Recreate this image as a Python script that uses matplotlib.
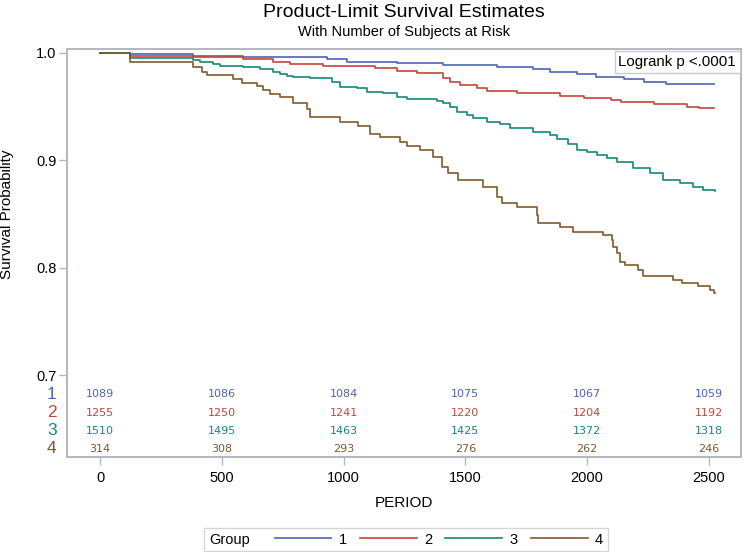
import numpy as np
import matplotlib
matplotlib.use("Agg")
import matplotlib.pyplot as plt
from matplotlib.lines import Line2D
from matplotlib.offsetbox import HPacker

plt.rcParams['font.family'] = ['Liberation Sans', 'DejaVu Sans']

# Kaplan-Meier step data (time, survival after step)
t1 = [0, 123, 382, 587, 932, 1014, 1220, 1409, 1630, 1778, 1848, 1959, 2037, 2152, 2234, 2324, 2521]
s1 = [1.0, 0.999, 0.997, 0.996, 0.994, 0.992, 0.9907, 0.989, 0.987, 0.985, 0.9826, 0.9804, 0.9774, 0.9758, 0.973, 0.9711, 0.9711]

t2 = [0, 123, 382, 587, 710, 780, 916, 1129, 1220, 1302, 1409, 1437, 1478, 1548, 1589, 1713,
      1889, 1988, 2099, 2140, 2275, 2411, 2460, 2521]
s2 = [1.0, 0.9975, 0.996, 0.994, 0.992, 0.9898, 0.988, 0.9857, 0.9835, 0.981, 0.9764, 0.9733, 0.970,
      0.967, 0.965, 0.9625, 0.960, 0.9584, 0.956, 0.9547, 0.9525, 0.950, 0.949, 0.949]

t3 = [0, 123, 382, 411, 464, 493, 587, 657, 710, 739, 768, 793, 862, 953, 986, 1055, 1096, 1162,
      1220, 1261, 1384, 1409, 1437, 1466, 1507, 1532, 1589, 1643, 1684, 1778, 1848, 1877, 1920,
      1959, 2000, 2041, 2080, 2123, 2189, 2259, 2312, 2382, 2435, 2476, 2526]
s3 = [1.0, 0.995, 0.9935, 0.992, 0.990, 0.988, 0.9867, 0.985, 0.9826, 0.980, 0.9786, 0.9774, 0.9764,
      0.9733, 0.9687, 0.967, 0.964, 0.9625, 0.9593, 0.957, 0.9556, 0.9537, 0.950, 0.9454, 0.9423,
      0.939, 0.936, 0.934, 0.930, 0.9267, 0.9236, 0.9200, 0.9150, 0.9097, 0.9075, 0.905, 0.902,
      0.8985, 0.893, 0.888, 0.882, 0.879, 0.875, 0.872, 0.8718]

t4 = [0, 123, 382, 419, 439, 546, 583, 645, 669, 698, 739, 793, 850, 862, 986, 1060, 1109, 1150,
      1232, 1261, 1314, 1368, 1405, 1429, 1470, 1573, 1630, 1651, 1713, 1795, 1799, 1889, 1943,
      2066, 2103, 2107, 2123, 2136, 2156, 2209, 2230, 2353, 2390, 2456, 2505, 2521, 2526]
s4 = [1.0, 0.992, 0.987, 0.9826, 0.9795, 0.9755, 0.9724, 0.969, 0.9655, 0.962, 0.9587, 0.953, 0.9476,
      0.9407, 0.936, 0.932, 0.925, 0.922, 0.917, 0.9134, 0.9097, 0.9035, 0.894, 0.888, 0.8818,
      0.8755, 0.8662, 0.860, 0.8563, 0.849, 0.8414, 0.8377, 0.8336, 0.8305, 0.826, 0.8197, 0.8135,
      0.8057, 0.8026, 0.798, 0.7924, 0.7886, 0.786, 0.783, 0.779, 0.7763, 0.7763]

groups = ['1', '2', '3', '4']
risk_times = [0, 500, 1000, 1500, 2000, 2500]
at_risk = [
    [1089, 1086, 1084, 1075, 1067, 1059],
    [1255, 1250, 1241, 1220, 1204, 1192],
    [1510, 1495, 1463, 1425, 1372, 1318],
    [314, 308, 293, 276, 262, 246],
]

colors = ['#4f62b4', '#c2463a', '#178878', '#80592b']
frame_col = '#b3b8be'

fig = plt.figure(figsize=(7.44, 5.52), dpi=100)
ax = fig.add_axes([0.0901, 0.1721, 0.9059, 0.7391])

handles = []
for t, s, c, g in zip([t1, t2, t3, t4], [s1, s2, s3, s4], colors, groups):
    h, = ax.step(t, s, where='post', color=c, lw=1.2, label=g)
    handles.append(h)

ax.set_xlim(-135.5, 2632)
ax.set_ylim(0.6237, 1.0037)
ax.set_xticks(risk_times)
ax.set_yticks([0.7, 0.8, 0.9, 1.0])
ax.set_yticklabels(['0.7', '0.8', '0.9', '1.0'])

for sp in ax.spines.values():
    sp.set_color(frame_col)
    sp.set_linewidth(1.4)
ax.tick_params(axis='both', colors=frame_col, labelcolor='black', labelsize=10.5,
               length=6, width=1.0)
ax.tick_params(axis='y', pad=1.5)
ax.tick_params(axis='x', pad=4)

ax.set_xlabel('PERIOD', fontsize=11)
ax.xaxis.set_label_coords(0.5, -0.095)
ax.set_ylabel('Survival Probability', fontsize=11)
ax.yaxis.set_label_coords(-0.079, 0.596)

# numbers at risk inside the plot area
row_y = [0.154, 0.108, 0.064, 0.020]
trans = ax.get_xaxis_transform()
for i in range(4):
    for tx, n in zip(risk_times, at_risk[i]):
        ax.text(tx, row_y[i], str(n), transform=trans, ha='center', va='center',
                fontsize=8, family='DejaVu Sans', color=colors[i])
    ax.text(-0.0225, row_y[i], groups[i], transform=ax.transAxes, ha='center', va='center',
            fontsize=12.5, color=colors[i], clip_on=False)

ax.text(0.9925, 0.985, 'Logrank p <.0001', transform=ax.transAxes, ha='right', va='top',
        fontsize=10.8,
        bbox=dict(boxstyle='square,pad=0.25', fc='white', ec='#c8ccd0', lw=1.0))

fig.text(0.543, 1 - 17 / 552, 'Product-Limit Survival Estimates', ha='center',
         va='baseline', fontsize=14)
fig.text(0.543, 1 - 36 / 552, 'With Number of Subjects at Risk', ha='center',
         va='baseline', fontsize=10.5)

leg = fig.legend(handles=handles, labels=groups, loc='center', bbox_to_anchor=(0.5457, 0.0226),
                 ncol=4, title='Group', fontsize=10.5, title_fontsize=10.5,
                 handlelength=3.9, handletextpad=0.5, columnspacing=0.9,
                 frameon=True, fancybox=False, edgecolor='#c8ccd0', borderpad=0.3)
leg.get_frame().set_linewidth(1.0)
# put the title in line with the entries
box = HPacker(pad=leg._legend_box.pad, sep=18, align='center',
              children=[leg._legend_title_box, leg._legend_handle_box])
box.set_figure(fig)
box.set_offset(leg._findoffset)
leg._legend_box = box

fig.savefig('out.png', dpi=100)
